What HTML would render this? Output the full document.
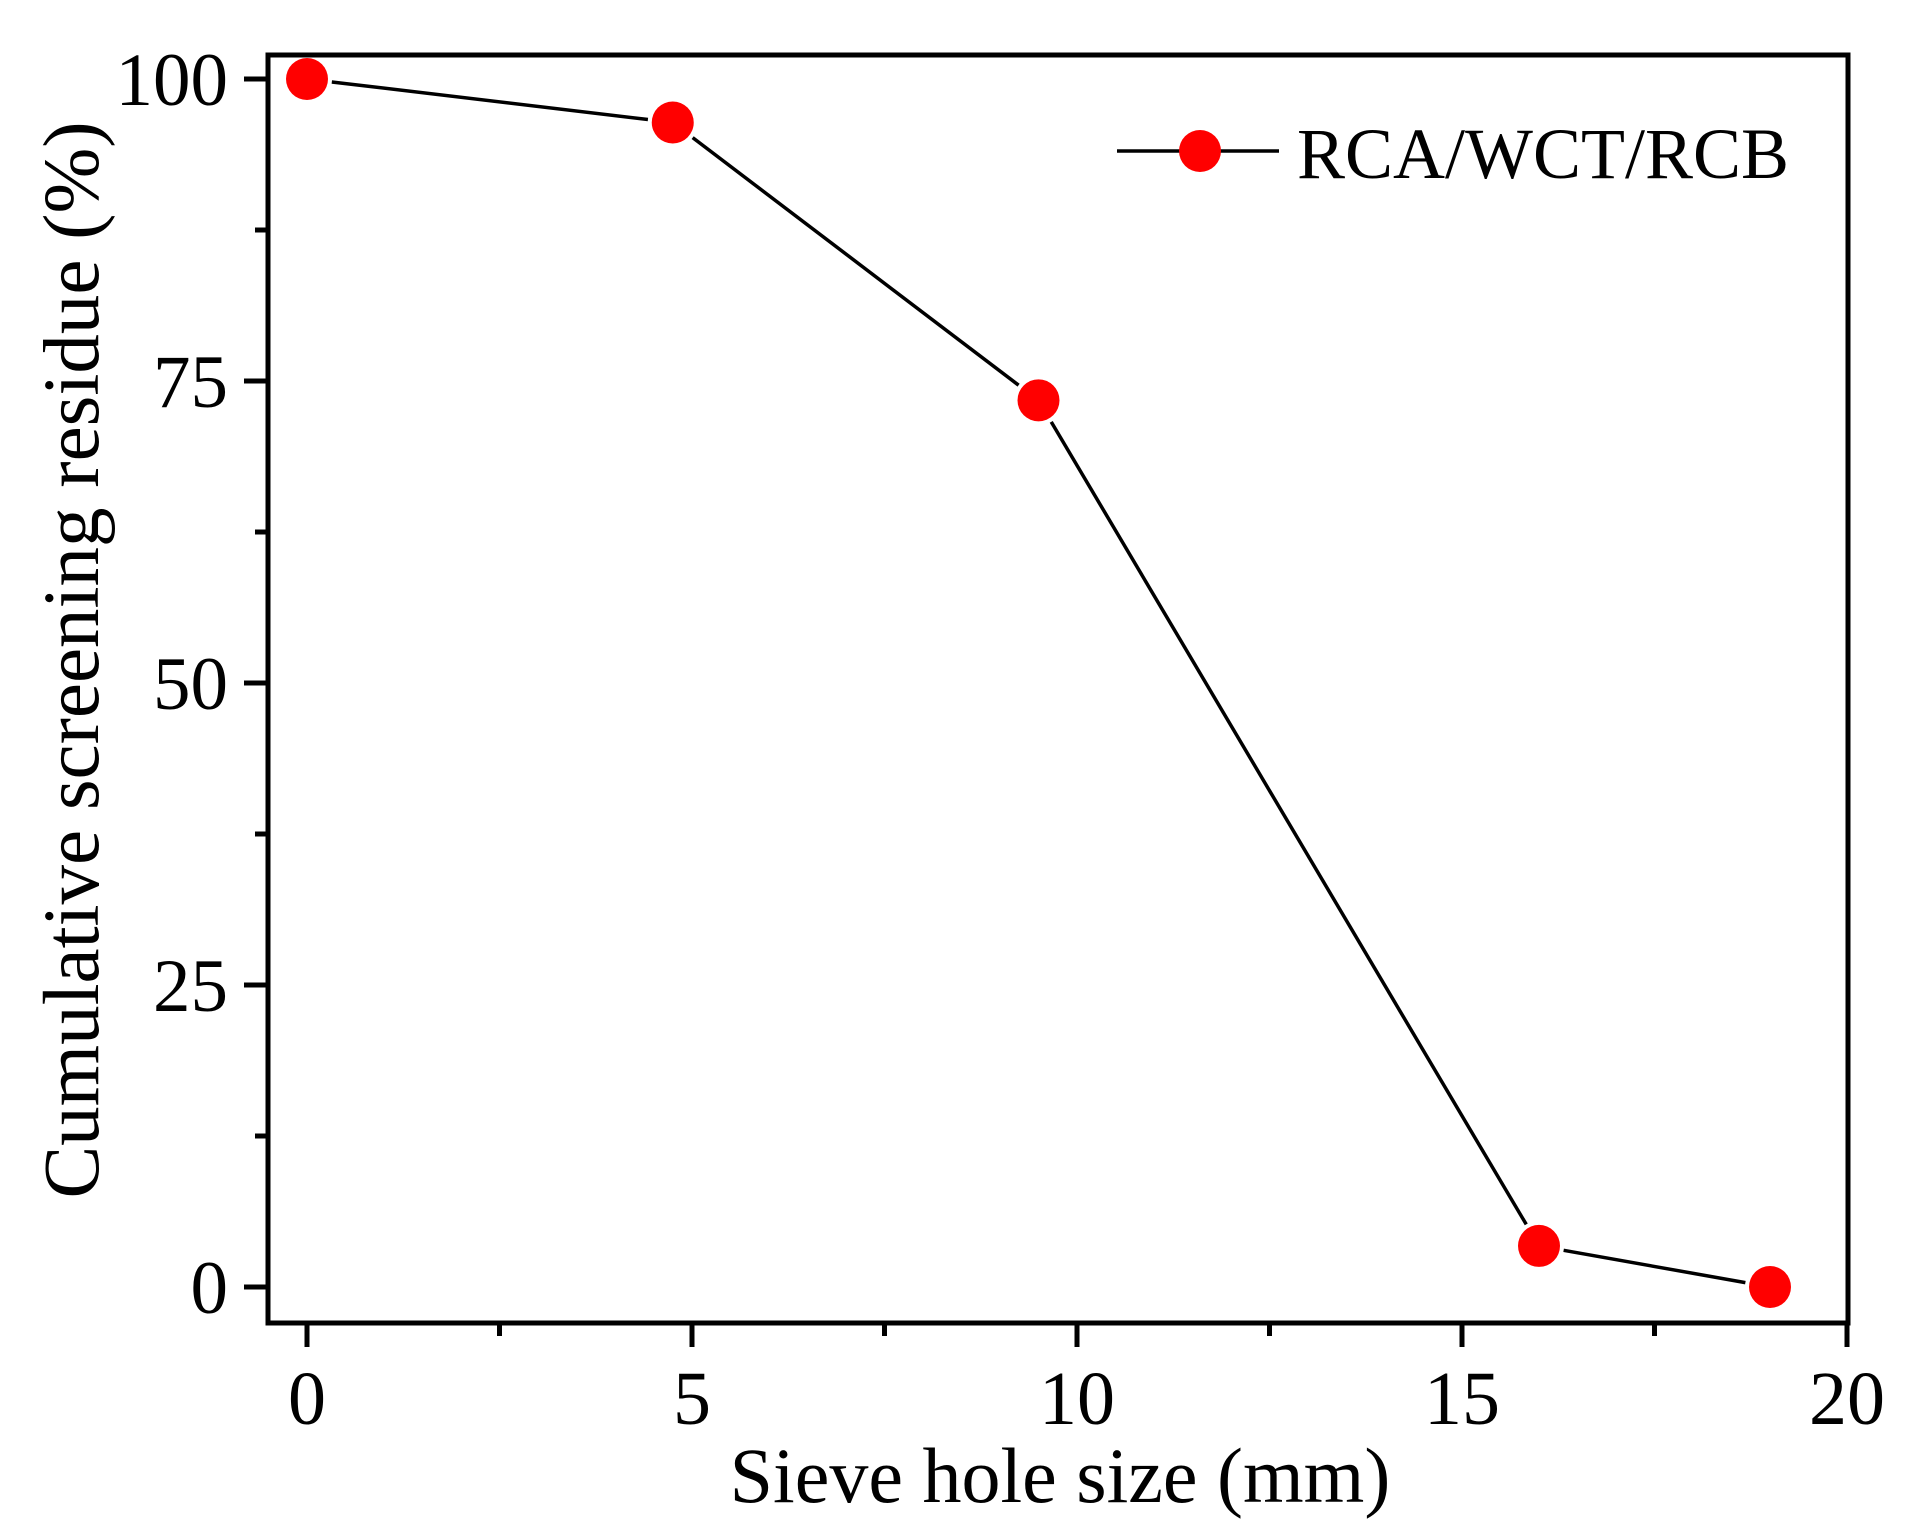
<!DOCTYPE html>
<html><head><meta charset="utf-8"><style>html,body{margin:0;padding:0;background:#fff}svg{display:block}text{font-family:"Liberation Serif",serif;fill:#000}</style></head>
<body>
<svg id="chart" width="1910" height="1538" viewBox="0 0 1910 1538">
<rect x="268" y="55" width="1580" height="1268" fill="none" stroke="#000" stroke-width="5"/>
<g id="axes"></g>
<g id="series"></g>
<text x="1060" y="1502" font-size="78" text-anchor="middle">Sieve hole size (mm)</text>
<text x="0" y="0" font-size="79" text-anchor="middle" transform="translate(98,660) rotate(-90)">Cumulative screening residue (%)</text>
<g>
<line x1="1117" y1="151" x2="1279" y2="151" stroke="#000" stroke-width="3.5"/>
<circle cx="1200" cy="151" r="21" fill="#ff0000"/>
<text x="1297" y="178" font-size="72">RCA/WCT/RCB</text>
</g>
</svg>
<script>
const xValues = [0, 4.75, 9.5, 16, 19];
const yValues = [100, 96.4, 73.4, 3.4, 0];
const xTicks = [0, 5, 10, 15, 20];
const yTicks = [0, 25, 50, 75, 100];
const xMinor = [2.5, 7.5, 12.5, 17.5];
const yMinor = [12.5, 37.5, 62.5, 87.5];
const NS = 'http://www.w3.org/2000/svg';
function sx(v){return 307 + v*77;}
function sy(v){return 1287 - v*12.08;}
function mk(tag, attrs, parent){const e=document.createElementNS(NS,tag);for(const k in attrs)e.setAttribute(k,attrs[k]);parent.appendChild(e);return e;}
const ax=document.getElementById('axes');
xTicks.forEach(t=>{
  const l=mk('line',{x1:sx(t),x2:sx(t),y1:1323,y2:1347,stroke:'#000','stroke-width':5},ax);
  
  
  const tx=mk('text',{x:sx(t),y:1424,'font-size':76,'text-anchor':'middle'},ax);
  tx.textContent=t;
  
  
});
xMinor.forEach(t=>{
  const l=mk('line',{x1:sx(t),x2:sx(t),y1:1323,y2:1336,stroke:'#000','stroke-width':5},ax);
  
  
});
yTicks.forEach(t=>{
  const l=mk('line',{x1:244,x2:268,y1:sy(t),y2:sy(t),stroke:'#000','stroke-width':5},ax);
  
  
  const tx=mk('text',{x:228,y:sy(t)+26,'font-size':75,'text-anchor':'end'},ax);
  tx.textContent=t;
  
  
});
yMinor.forEach(t=>{
  const l=mk('line',{x1:255,x2:268,y1:sy(t),y2:sy(t),stroke:'#000','stroke-width':5},ax);
  
  
});
const sg=document.getElementById('series');
for(let i=0;i<xValues.length-1;i++){
  const x1=sx(xValues[i]),y1=sy(yValues[i]),x2=sx(xValues[i+1]),y2=sy(yValues[i+1]);
  const d=Math.hypot(x2-x1,y2-y1),g=25,ux=(x2-x1)/d,uy=(y2-y1)/d;
  const l=mk('line',{x1:x1+ux*g,y1:y1+uy*g,x2:x2-ux*g,y2:y2-uy*g,stroke:'#000','stroke-width':3.5},sg);
  
  
}
xValues.forEach((x,i)=>{
  const c=mk('circle',{cx:sx(x),cy:sy(yValues[i]),r:21,fill:'#ff0000'},sg);
  
  
});
</script>
</body></html>
